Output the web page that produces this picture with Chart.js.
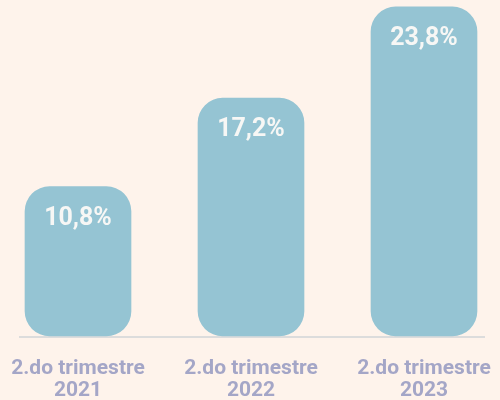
<!DOCTYPE html>
<html lang="pt">
<head>
  <meta charset="UTF-8">
  <title>Trimestres</title>
  <script src="https://cdn.jsdelivr.net/npm/chart.js"></script>
  <style>
    html, body {
      margin: 0;
      padding: 0;
      background-color: #fef3eb;
    }
    .chart-wrapper {
      width: 500px;
      height: 400px;
    }
  </style>
</head>
<body>
  <div class="chart-wrapper">
    <canvas id="quarterChart"></canvas>
  </div>
  <script>
    const categories = [
      ['2.do trimestre', '2021'],
      ['2.do trimestre', '2022'],
      ['2.do trimestre', '2023']
    ];
    const values = [10.8, 17.2, 23.8];
    const valueLabels = ['10,8%', '17,2%', '23,8%'];

    // baseline under the bars, wider than the plot area
    const baselinePlugin = {
      id: 'baseline',
      beforeDatasetsDraw(chart) {
        const ctx = chart.ctx;
        const y = chart.scales.y.getPixelForValue(0);
        ctx.save();
        ctx.strokeStyle = '#dcdcdc';
        ctx.lineWidth = 2;
        ctx.beginPath();
        ctx.moveTo(19, y + 1);
        ctx.lineTo(485, y + 1);
        ctx.stroke();
        ctx.restore();
      }
    };

    // white value labels inside the top of each bar
    const valueLabelPlugin = {
      id: 'valueLabels',
      afterDatasetsDraw(chart) {
        const ctx = chart.ctx;
        const meta = chart.getDatasetMeta(0);
        ctx.save();
        ctx.fillStyle = '#f7f7f5';
        ctx.font = 'bold 25px Roboto';
        ctx.textAlign = 'center';
        ctx.textBaseline = 'middle';
        meta.data.forEach((bar, i) => {
          ctx.fillText(valueLabels[i], bar.x, bar.y + 32);
        });
        ctx.restore();
      }
    };

    new Chart(document.getElementById('quarterChart'), {
      type: 'bar',
      data: {
        labels: categories,
        datasets: [{
          data: values,
          backgroundColor: '#95c4d3',
          borderRadius: 25,
          borderSkipped: false,
          barThickness: 106,
          clip: false
        }]
      },
      options: {
        responsive: true,
        maintainAspectRatio: false,
        animation: false,
        layout: {
          padding: { left: 78, right: 76, top: 0, bottom: -24 }
        },
        plugins: {
          legend: { display: false },
          tooltip: { enabled: false }
        },
        scales: {
          x: {
            offset: false,
            grid: { display: false, drawTicks: false },
            border: { display: false },
            afterFit(scale) {
              scale.paddingLeft = 0;
              scale.paddingRight = 0;
            },
            ticks: {
              padding: 22,
              color: '#a4a6c7',
              font: { family: 'Roboto', size: 21, weight: 'bold', lineHeight: 1.05 },
              maxRotation: 0,
              autoSkip: false
            }
          },
          y: {
            display: false,
            min: 0,
            max: 24.3
          }
        }
      },
      plugins: [baselinePlugin, valueLabelPlugin]
    });
  </script>
</body>
</html>
